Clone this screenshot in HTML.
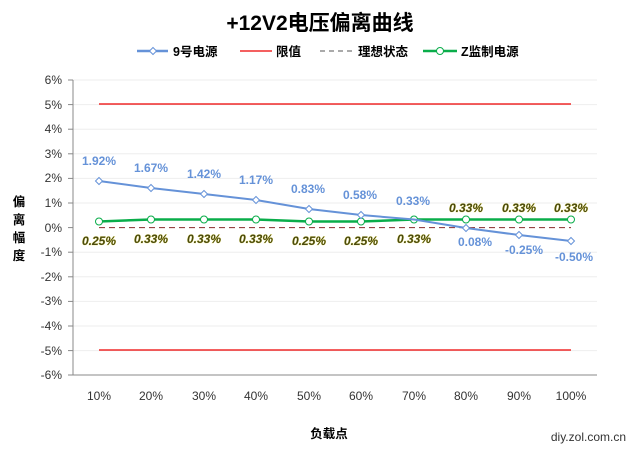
<!DOCTYPE html>
<html><head><meta charset="utf-8"><style>
body{margin:0;background:#fff;}
svg text{font-family:"Liberation Sans","Noto Sans CJK SC",sans-serif;}
</style></head><body>
<svg width="640" height="454" viewBox="0 0 640 454" xmlns="http://www.w3.org/2000/svg">
<rect width="640" height="454" fill="#fff"/>
<text x="320" y="30" text-anchor="middle" font-size="21" font-weight="bold" fill="#000">+12V2电压偏离曲线</text>
<!-- legend -->
<line x1="137" y1="51" x2="168" y2="51" stroke="#6592d8" stroke-width="2.5"/>
<path d="M153 47.5 L156.5 51 L153 54.5 L149.5 51Z" fill="#fff" stroke="#6592d8"/>
<text x="173" y="56" font-size="12.5" font-weight="bold">9号电源</text>
<line x1="240" y1="51" x2="272" y2="51" stroke="#e00" stroke-width="1.2"/>
<text x="276" y="56" font-size="12.5" font-weight="bold">限值</text>
<line x1="320" y1="51" x2="355" y2="51" stroke="#555" stroke-width="1" stroke-dasharray="5,4"/>
<text x="358" y="56" font-size="12.5" font-weight="bold">理想状态</text>
<line x1="423" y1="51" x2="457" y2="51" stroke="#0aad4a" stroke-width="2.5"/>
<circle cx="440" cy="51" r="3.5" fill="#fff" stroke="#0aad4a"/>
<text x="461" y="56" font-size="12.5" font-weight="bold">Z监制电源</text>
<!-- grid -->
<g stroke="#eee" stroke-width="1">
<line x1="73" x2="597" y1="80" y2="80"/><line x1="73" x2="597" y1="104.6" y2="104.6"/>
<line x1="73" x2="597" y1="129.2" y2="129.2"/><line x1="73" x2="597" y1="153.8" y2="153.8"/>
<line x1="73" x2="597" y1="178.4" y2="178.4"/><line x1="73" x2="597" y1="203" y2="203"/>
<line x1="73" x2="597" y1="252.2" y2="252.2"/><line x1="73" x2="597" y1="276.8" y2="276.8"/>
<line x1="73" x2="597" y1="301.4" y2="301.4"/><line x1="73" x2="597" y1="326" y2="326"/>
<line x1="73" x2="597" y1="350.6" y2="350.6"/>
</g>
<line x1="73" x2="73" y1="80" y2="375" stroke="#888"/>
<line x1="73" x2="597" y1="375" y2="375" stroke="#888"/>
<g stroke="#888">
<line x1="68" x2="73" y1="80" y2="80"/><line x1="68" x2="73" y1="104.6" y2="104.6"/><line x1="68" x2="73" y1="129.2" y2="129.2"/><line x1="68" x2="73" y1="153.8" y2="153.8"/><line x1="68" x2="73" y1="178.4" y2="178.4"/><line x1="68" x2="73" y1="203" y2="203"/><line x1="68" x2="73" y1="227.6" y2="227.6"/><line x1="68" x2="73" y1="252.2" y2="252.2"/><line x1="68" x2="73" y1="276.8" y2="276.8"/><line x1="68" x2="73" y1="301.4" y2="301.4"/><line x1="68" x2="73" y1="326" y2="326"/><line x1="68" x2="73" y1="350.6" y2="350.6"/><line x1="68" x2="73" y1="375" y2="375"/>
</g>
<g font-size="12" fill="#333" text-anchor="end">
<text x="62" y="84">6%</text><text x="62" y="109">5%</text><text x="62" y="133">4%</text><text x="62" y="158">3%</text><text x="62" y="182">2%</text><text x="62" y="207">1%</text><text x="62" y="232">0%</text><text x="62" y="256">-1%</text><text x="62" y="281">-2%</text><text x="62" y="305">-3%</text><text x="62" y="330">-4%</text><text x="62" y="355">-5%</text><text x="62" y="379">-6%</text>
</g>
<g font-size="12" fill="#333" text-anchor="middle">
<text x="99" y="400">10%</text><text x="151" y="400">20%</text><text x="204" y="400">30%</text><text x="256" y="400">40%</text><text x="309" y="400">50%</text><text x="361" y="400">60%</text><text x="414" y="400">70%</text><text x="466" y="400">80%</text><text x="519" y="400">90%</text><text x="571" y="400">100%</text>
</g>
<text x="329" y="438" text-anchor="middle" font-size="12.5" font-weight="bold">负载点</text>
<g font-size="12.5" font-weight="bold" text-anchor="middle"><text x="19" y="206">偏</text><text x="19" y="224">离</text><text x="19" y="242">幅</text><text x="19" y="260">度</text></g>
<text x="626" y="441" text-anchor="end" font-size="12" fill="#333">diy.zol.com.cn</text>
<!-- limits -->
<line x1="99" x2="571" y1="104" y2="104" stroke="#e00" stroke-width="1.2"/>
<line x1="99" x2="571" y1="350" y2="350" stroke="#e00" stroke-width="1.2"/>
<line x1="99" x2="571" y1="227.6" y2="227.6" stroke="#8a2a2a" stroke-width="1" stroke-dasharray="6,4"/>
<!-- green -->
<polyline fill="none" stroke="#0aad4a" stroke-width="2.5" points="99,221.5 151,219.5 204,219.5 256,219.5 309,221.5 361,221.5 414,219.5 466,219.5 519,219.5 571,219.5"/>
<g fill="#fff" stroke="#0aad4a" stroke-width="1">
<circle cx="99" cy="221.5" r="3.5"/><circle cx="151" cy="219.5" r="3.5"/><circle cx="204" cy="219.5" r="3.5"/><circle cx="256" cy="219.5" r="3.5"/><circle cx="309" cy="221.5" r="3.5"/><circle cx="361" cy="221.5" r="3.5"/><circle cx="414" cy="219.5" r="3.5"/><circle cx="466" cy="219.5" r="3.5"/><circle cx="519" cy="219.5" r="3.5"/><circle cx="571" cy="219.5" r="3.5"/>
</g>
<!-- blue -->
<polyline fill="none" stroke="#6592d8" stroke-width="2" points="99,181 151,188 204,194 256,200 309,209 361,215 414,219.5 466,228 519,235 571,241"/>
<g fill="#fff" stroke="#6592d8" stroke-width="1">
<path d="M99 177.5l3.5 3.5l-3.5 3.5l-3.5-3.5z"/><path d="M151 184.5l3.5 3.5l-3.5 3.5l-3.5-3.5z"/><path d="M204 190.5l3.5 3.5l-3.5 3.5l-3.5-3.5z"/><path d="M256 196.5l3.5 3.5l-3.5 3.5l-3.5-3.5z"/><path d="M309 205.5l3.5 3.5l-3.5 3.5l-3.5-3.5z"/><path d="M361 211.5l3.5 3.5l-3.5 3.5l-3.5-3.5z"/><path d="M466 224.5l3.5 3.5l-3.5 3.5l-3.5-3.5z"/><path d="M519 231.5l3.5 3.5l-3.5 3.5l-3.5-3.5z"/><path d="M571 237.5l3.5 3.5l-3.5 3.5l-3.5-3.5z"/>
</g>
<g font-size="12" font-weight="bold" fill="#6592d8" text-anchor="middle">
<text x="99" y="165">1.92%</text><text x="151" y="172">1.67%</text><text x="204" y="178">1.42%</text><text x="256" y="184">1.17%</text><text x="308" y="193">0.83%</text><text x="360" y="199">0.58%</text><text x="413" y="205">0.33%</text><text x="475" y="246">0.08%</text><text x="524" y="254">-0.25%</text><text x="574" y="261">-0.50%</text>
</g>
<g font-size="12" font-weight="bold" font-style="italic" fill="#4a4a10" stroke="#f0e87a" stroke-width="0.6" paint-order="stroke" text-anchor="middle">
<text x="99" y="245">0.25%</text><text x="151" y="243">0.33%</text><text x="204" y="243">0.33%</text><text x="256" y="243">0.33%</text><text x="309" y="245">0.25%</text><text x="361" y="245">0.25%</text><text x="414" y="243">0.33%</text><text x="466" y="212">0.33%</text><text x="519" y="212">0.33%</text><text x="571" y="212">0.33%</text>
</g>
</svg>
</body></html>
